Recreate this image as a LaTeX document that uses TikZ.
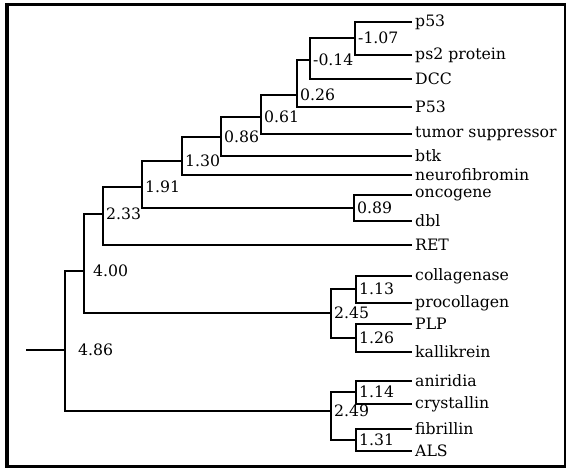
\documentclass[tikz,border=0pt]{standalone}
\usepackage{fontspec}
\setmainfont{DejaVu Serif}
\usetikzlibrary{positioning}

\begin{document}
\begin{tikzpicture}[x=1pt, y=-1pt, line width=2.4pt,
          leaf/.style={anchor=west, inner sep=2pt, font=\fontsize{15.7}{18}\selectfont},
          num/.style={inner sep=0pt, font=\fontsize{15.7}{18}\selectfont},
          thin branch/.style={line width=1.4pt},
        ]
          \useasboundingbox (0,0) rectangle (569,473);
          \draw[line width=3.5pt] (7,4) -- (7,466);
          \draw[line width=3pt]   (5,5) -- (566,5);
          \draw[line width=1.2pt] (565,5) -- (565,466);
          \draw[line width=3pt]   (5,466) -- (566,466);

          \node[leaf] (p53)    at (412, 22) {p53};
          \node[leaf] (ps2)    at (412, 55) {ps2 protein};
          \node[leaf] (dcc)    at (412, 79) {DCC};
          \node[leaf] (P53)    at (412,107) {P53};
          \node[leaf] (tumor)  at (412,134) {tumor suppressor};
          \node[leaf] (btk)    at (412,156) {btk};
          \node[leaf] (neuro)  at (412,175) {neurofibromin};
          \node[leaf] (onco)   at (412,195) {oncogene};
          \node[leaf] (dbl)    at (412,221) {dbl};
          \node[leaf] (ret)    at (412,245) {RET};
          \node[leaf] (coll)   at (412,276) {collagenase};
          \node[leaf] (proc)   at (412,303) {procollagen};
          \node[leaf] (plp)    at (412,324) {PLP};
          \node[leaf] (kall)   at (412,352) {kallikrein};
          \node[leaf] (anir)   at (412,381) {aniridia};
          \node[leaf] (crys)   at (412,404) {crystallin};
          \node[leaf] (fibr)   at (412,429) {fibrillin};
          \node[leaf] (als)    at (412,451) {ALS};

          \coordinate (n107) at (355, 38);
          \coordinate (n014) at (310, 60);
          \coordinate (n026) at (297, 95);
          \coordinate (n061) at (261,117);
          \coordinate (n086) at (221,137);
          \coordinate (n130) at (182,161);
          \coordinate (n089) at (354,208);
          \coordinate (n191) at (142,187);
          \coordinate (n233) at (103,214);
          \coordinate (n113) at (356,289);
          \coordinate (n126) at (356,338);
          \coordinate (n245) at (331,313);
          \coordinate (n114) at (356,392);
          \coordinate (n131) at (356,440);
          \coordinate (n249) at (331,411);
          \coordinate (n400) at ( 84,271);
          \coordinate (n486) at ( 65,350);
          \coordinate (root) at ( 26,350);

          \foreach \a/\b in {n107/p53, n107/ps2, n014/n107, n014/dcc,
                             n026/n014, n026/P53, n061/n026, n061/tumor,
                             n086/n061, n086/btk, n130/n086, n130/neuro,
                             n089/onco, n089/dbl, n191/n130, n191/n089,
                             n233/n191, n233/ret, n113/coll, n113/proc,
                             n126/plp, n126/kall, n245/n113, n245/n126,
                             n400/n233, n400/n245, n114/anir, n114/crys,
                             n131/fibr, n131/als, n249/n114, n249/n131}
            \draw (\a) |- (\b);
          \draw[thin branch] (n486) |- (n400);
          \draw[thin branch] (n486) |- (n249);
          \draw[thin branch] (root) -- (n486);

          \node[num, right=2pt of n107] (l107) {-1.07};
          \node[num, right=2pt of n014] (l014) {-0.14};
          \node[num, right=2pt of n026] (l026) {0.26};
          \node[num, right=2pt of n061] (l061) {0.61};
          \node[num, right=2pt of n086] (l086) {0.86};
          \node[num, right=2pt of n130] (l130) {1.30};
          \node[num, right=2pt of n089] (l089) {0.89};
          \node[num, right=2pt of n191] (l191) {1.91};
          \node[num, right=2pt of n233] (l233) {2.33};
          \node[num, right=8pt of n400] (l400) {4.00};
          \node[num, right=2pt of n113] (l113) {1.13};
          \node[num, right=2pt of n126] (l126) {1.26};
          \node[num, right=2pt of n245] (l245) {2.45};
          \node[num, right=2pt of n114] (l114) {1.14};
          \node[num, right=2pt of n131] (l131) {1.31};
          \node[num, right=2pt of n249] (l249) {2.49};
          \node[num, right=12pt of n486] (l486) {4.86};
        \end{tikzpicture}
\end{document}
